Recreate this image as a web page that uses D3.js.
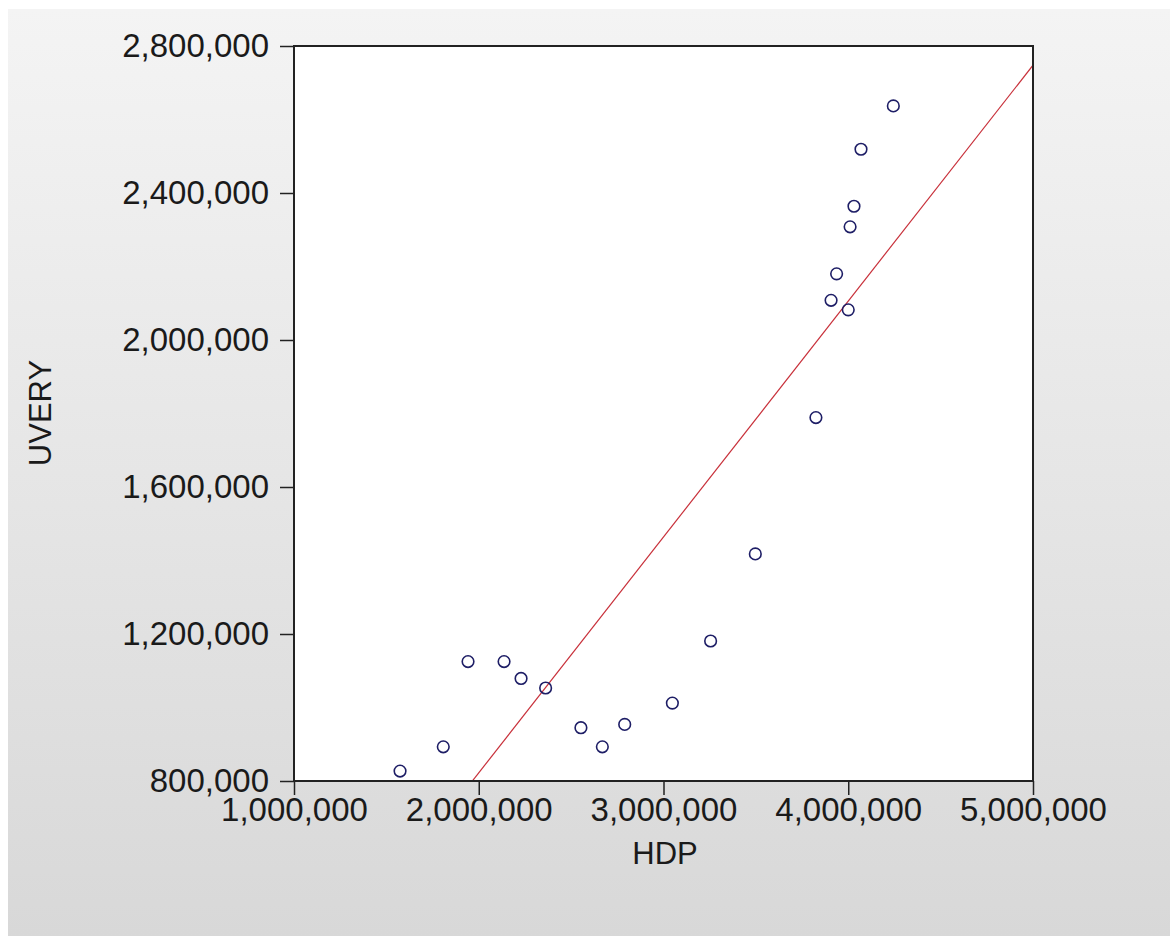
<!DOCTYPE html>
<html>
<head>
<meta charset="utf-8">
<script src="https://cdn.jsdelivr.net/npm/d3@7"></script>
<style>
  html, body { margin: 0; padding: 0; background: #fff; }
  svg { display: block; }
</style>
</head>
<body>
<script>
const width = 1170;
const height = 936;

// HDP (x) and UVERY (y)
const hdp = [1574000, 1808000, 1942000, 2137000, 2229000, 2362000, 2553000, 2669000, 2790000, 3048000,
             3255000, 3497000, 3825000, 3907000, 4000000, 3937000, 4010000, 4031000, 4069000, 4244000];
const uvery = [827000, 893000, 1125000, 1125000, 1079000, 1053000, 945000, 893000, 954000, 1012000,
               1181000, 1418000, 1789000, 2108000, 2082000, 2180000, 2308000, 2364000, 2519000, 2637000];

const xTicks = [1000000, 2000000, 3000000, 4000000, 5000000];
const yTicks = [800000, 1200000, 1600000, 2000000, 2400000, 2800000];

const margin = {top: 46, right: 137, bottom: 155, left: 294};

const fmt = d3.format(",");

const x = d3.scaleLinear()
    .domain([1000000, 5000000])
    .range([margin.left, width - margin.right]);

const y = d3.scaleLinear()
    .domain([800000, 2800000])
    .range([height - margin.bottom, margin.top]);

// least squares fit of uvery on hdp
const mx = d3.mean(hdp);
const my = d3.mean(uvery);
let sxy = 0, sxx = 0;
hdp.forEach((v, i) => {
    sxy += (v - mx) * (uvery[i] - my);
    sxx += (v - mx) * (v - mx);
});
const slope = sxy / sxx;
const intercept = my - slope * mx;

const svg = d3.select(document.body).append("svg")
    .attr("width", width)
    .attr("height", height)
    .style("font-family", "'Liberation Sans', Arial, sans-serif");

const defs = svg.append("defs");
const grad = defs.append("linearGradient")
    .attr("id", "bg")
    .attr("x1", 0).attr("y1", 0).attr("x2", 0).attr("y2", 1);
grad.append("stop").attr("offset", "0%").attr("stop-color", "#f4f4f4");
grad.append("stop").attr("offset", "100%").attr("stop-color", "#d8d8d8");

defs.append("clipPath")
    .attr("id", "plot-clip")
    .append("rect")
    .attr("x", x.range()[0])
    .attr("y", y.range()[1])
    .attr("width", x.range()[1] - x.range()[0])
    .attr("height", y.range()[0] - y.range()[1]);

svg.append("rect")
    .attr("x", 8)
    .attr("y", 9)
    .attr("width", width - 8)
    .attr("height", height - 9)
    .attr("fill", "url(#bg)");

svg.append("rect")
    .attr("x", x.range()[0])
    .attr("y", y.range()[1])
    .attr("width", x.range()[1] - x.range()[0])
    .attr("height", y.range()[0] - y.range()[1])
    .attr("fill", "#fff");

// regression line
svg.append("line")
    .attr("clip-path", "url(#plot-clip)")
    .attr("x1", x(1000000))
    .attr("y1", y(intercept + slope * 1000000))
    .attr("x2", x(5000000))
    .attr("y2", y(intercept + slope * 5000000))
    .attr("stroke", "#c8303a")
    .attr("stroke-width", 1.2);

// points
svg.append("g")
    .attr("fill", "none")
    .attr("stroke", "#1e1e66")
    .attr("stroke-width", 1.6)
    .selectAll("circle")
    .data(hdp)
    .join("circle")
    .attr("cx", d => x(d))
    .attr("cy", (d, i) => y(uvery[i]))
    .attr("r", 5.8);

// frame
svg.append("rect")
    .attr("x", x.range()[0])
    .attr("y", y.range()[1])
    .attr("width", x.range()[1] - x.range()[0])
    .attr("height", y.range()[0] - y.range()[1])
    .attr("fill", "none")
    .attr("stroke", "#222")
    .attr("stroke-width", 2);

const xAxis = svg.append("g")
    .attr("transform", `translate(0,${y.range()[0]})`)
    .call(d3.axisBottom(x).tickValues(xTicks).tickFormat(fmt)
        .tickSizeInner(14).tickSizeOuter(0).tickPadding(3));

const yAxis = svg.append("g")
    .attr("transform", `translate(${x.range()[0]},0)`)
    .call(d3.axisLeft(y).tickValues(yTicks).tickFormat(fmt)
        .tickSizeInner(14).tickSizeOuter(0).tickPadding(11));

[xAxis, yAxis].forEach(g => {
    g.select(".domain").remove();
    g.selectAll(".tick line").attr("stroke", "#222").attr("stroke-width", 1.5);
    g.selectAll(".tick text")
        .attr("fill", "#1a1a1a")
        .style("font-size", "33px")
        .style("font-family", "'Liberation Sans', Arial, sans-serif");
});

svg.append("text")
    .attr("x", 665)
    .attr("y", 864)
    .attr("text-anchor", "middle")
    .attr("fill", "#1a1a1a")
    .style("font-size", "31px")
    .text("HDP");

svg.append("text")
    .attr("transform", "translate(51,413) rotate(-90)")
    .attr("text-anchor", "middle")
    .attr("fill", "#1a1a1a")
    .style("font-size", "31px")
    .text("UVERY");
</script>
</body>
</html>
